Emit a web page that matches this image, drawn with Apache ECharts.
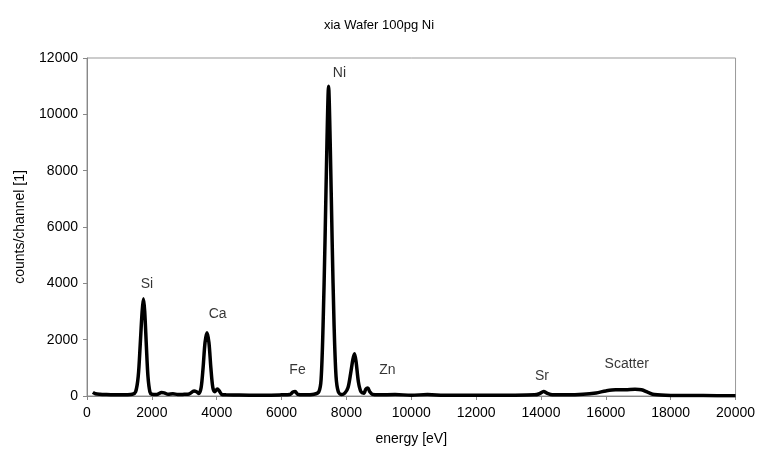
<!DOCTYPE html>
<html>
<head>
<meta charset="utf-8">
<script src="https://cdn.jsdelivr.net/npm/echarts@6/dist/echarts.min.js"></script>
<style>
  html, body { margin: 0; padding: 0; background: #fff; }
  #chart { width: 758px; height: 454px; }
</style>
</head>
<body>
<div id="chart"></div>
<script>
// spectrum (energy in eV, counts per channel)
var energy = [180, 260, 400, 600, 800, 1000, 1200, 1400, 1500, 1580, 1640, 1700, 1740, 1780, 1830, 1880, 1940, 2000,
  2150, 2300, 2380, 2500, 2650, 2800, 3000, 3150, 3300, 3380, 3450, 3520, 3580, 3640, 3700, 3760, 3820, 3880, 3940,
  4020, 4080, 4150, 4300, 4600, 5000, 5500, 6000, 6250, 6350, 6420, 6500, 6700, 7000, 7150, 7220, 7280, 7340, 7400,
  7450, 7500, 7560, 7620, 7680, 7750, 7850, 7950, 8050, 8130, 8200, 8250, 8300, 8370, 8450, 8540, 8600, 8660, 8720,
  8800, 9000, 9500, 10000, 10500, 11000, 12000, 13000, 13800, 13950, 14080, 14200, 14350, 14800, 15300, 15700, 16000,
  16300, 16600, 16900, 17100, 17300, 17500, 18000, 19000, 20000]
var counts = [130, 80, 60, 50, 45, 40, 45, 60, 150, 700, 1800, 3000, 3450, 3000, 1800, 700, 150, 60,
  50, 120, 110, 60, 80, 50, 60, 70, 180, 150, 90, 300, 1000, 1900, 2250, 1900, 1000, 300, 150,
  250, 180, 60, 40, 35, 30, 30, 40, 50, 140, 160, 60, 40, 60, 150, 600, 2500, 5500, 9000,
  11000, 9000, 5500, 2500, 700, 150, 50, 100, 300, 800, 1300, 1500, 1200, 500, 150, 100, 250, 280, 150,
  60, 40, 50, 30, 50, 30, 25, 30, 40, 80, 160, 90, 40, 40, 60, 110, 180,
  220, 220, 240, 220, 130, 50, 20, 15, 10]

// peak annotations
var peakNames = ['Si', 'Ca', 'Ni', 'Fe', 'Zn', 'Sr', 'Scatter']
var peakX = [1846, 4031, 7785, 6492, 9262, 14031, 16646]
var peakY = [3965, 2900, 11455, 912, 912, 700, 1125]

var chart = echarts.init(document.getElementById('chart'))
var font = 'Liberation Sans, Arial, sans-serif'

chart.setOption({
  animation: false,
  textStyle: { fontFamily: font },
  title: {
    text: 'xia Wafer 100pg Ni',
    left: 'center',
    top: 14,
    textStyle: { fontSize: 13, fontWeight: 'normal', color: '#000', fontFamily: font }
  },
  grid: {
    left: 87,
    right: 21,
    top: 58,
    bottom: 58,
    show: true,
    borderColor: '#999',
    borderWidth: 1
  },
  xAxis: {
    type: 'value',
    min: 0,
    max: 20000,
    interval: 2000,
    name: 'energy [eV]',
    nameLocation: 'middle',
    nameGap: 36,
    nameTextStyle: { fontSize: 14, color: '#000' },
    axisLine: { lineStyle: { color: '#888' } },
    axisTick: { show: true, length: 4, lineStyle: { color: '#888' } },
    axisLabel: { fontSize: 14, color: '#000', margin: 10, formatter: function (v) { return String(v) } },
    splitLine: { show: false }
  },
  yAxis: {
    type: 'value',
    min: 0,
    max: 12000,
    interval: 2000,
    name: 'counts/channel [1]',
    nameLocation: 'middle',
    nameGap: 60,
    nameTextStyle: { fontSize: 14, color: '#000' },
    axisLine: { show: true, lineStyle: { color: '#888' } },
    axisTick: { show: true, length: 4, lineStyle: { color: '#888' } },
    axisLabel: { fontSize: 14, color: '#000', margin: 9, formatter: function (v) { return String(v) } },
    splitLine: { show: false }
  },
  series: [
    {
      type: 'line',
      data: energy.map(function (e, i) { return [e, counts[i]] }),
      smooth: 0.3,
      showSymbol: false,
      lineStyle: { color: '#000', width: 3.5 }
    },
    {
      type: 'scatter',
      symbolSize: 0,
      silent: true,
      data: peakNames.map(function (n, i) { return { name: n, value: [peakX[i], peakY[i]] } }),
      label: {
        show: true,
        position: 'inside',
        formatter: '{b}',
        fontSize: 14,
        color: '#000'
      }
    }
  ]
})
</script>
</body>
</html>
